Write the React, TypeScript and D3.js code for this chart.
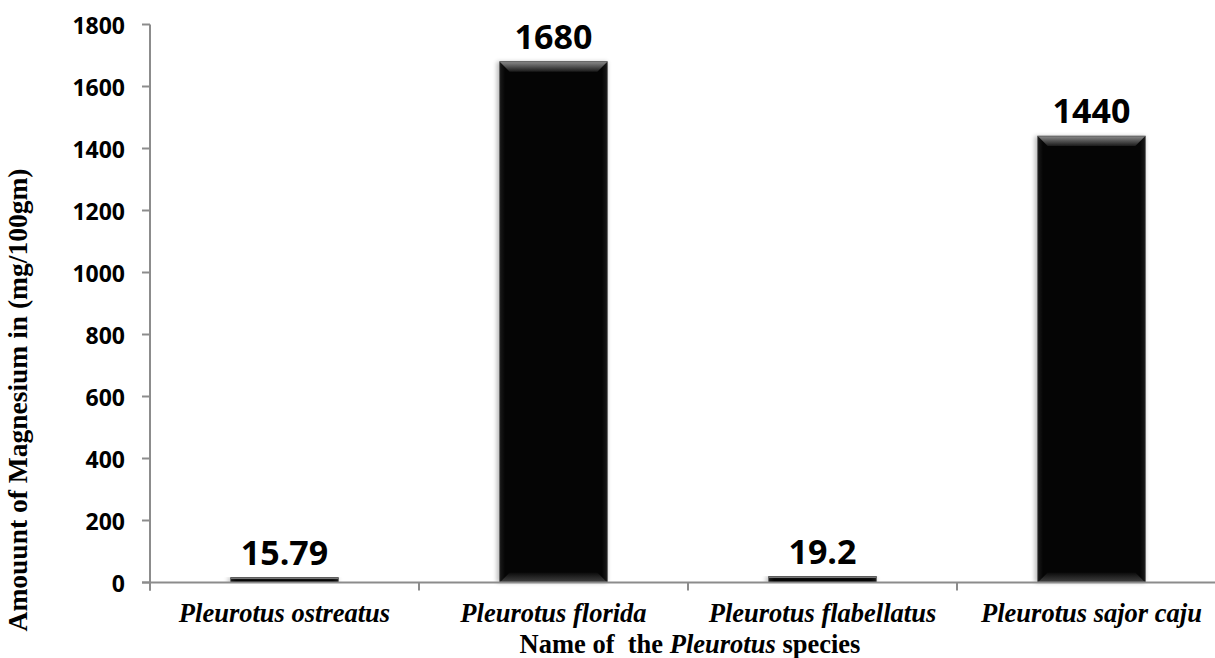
import React from "react";
import * as d3 from "d3";

const categories = ["Pleurotus ostreatus", "Pleurotus florida", "Pleurotus flabellatus", "Pleurotus sajor caju"];
const values = [15.79, 1680, 19.2, 1440];
const valueLabels = ["15.79", "1680", "19.2", "1440"];
const yTicks = [0, 200, 400, 600, 800, 1000, 1200, 1400, 1600, 1800];

const W = 1215;
const H = 658;
const left = 150;
const bandW = 269;
const y0 = 582.5;
const yTop = 24.5;

export default function App() {
  const x = d3.scaleBand<string>().domain(categories).range([left, left + bandW * 4]).paddingInner(0).paddingOuter(0);
  const y = d3.scaleLinear().domain([0, 1800]).range([y0, yTop]);
  const bw = bandW * 0.4;
  const tickFont = "'Open Sans', Lato, sans-serif";
  const serif = "'Liberation Serif', 'Times New Roman', serif";
  return (
    <div style={{ position: "absolute", left: 0, top: 0 }}>
      <svg width={W} height={H} style={{ display: "block", background: "#fff" }}>
        <defs>
          <linearGradient id="barg" x1="0" x2="1" y1="0" y2="0">
            <stop offset="0" stopColor="#1a1a1a" />
            <stop offset="0.05" stopColor="#050505" />
            <stop offset="0.95" stopColor="#050505" />
            <stop offset="1" stopColor="#1a1a1a" />
          </linearGradient>
          <linearGradient id="topg" x1="0" x2="0" y1="0" y2="1">
            <stop offset="0" stopColor="#8a8a8a" />
            <stop offset="1" stopColor="#1a1a1a" />
          </linearGradient>
          <linearGradient id="botg" x1="0" x2="0" y1="0" y2="1">
            <stop offset="0" stopColor="#0a0a0a" />
            <stop offset="1" stopColor="#444" />
          </linearGradient>
          <filter id="sh" x="-20%" y="-5%" width="140%" height="110%">
            <feGaussianBlur stdDeviation="2" />
          </filter>
        </defs>
        {/* y axis */}
        <line x1={left} x2={left} y1={yTop} y2={y0 + 8} stroke="#8c8c8c" strokeWidth={2} />
        {yTicks.map((t) => (
          <g key={t}>
            <line x1={left - 8} x2={left} y1={y(t)} y2={y(t)} stroke="#8c8c8c" strokeWidth={2} />
            <text x={left - 25} y={y(t)} textAnchor="end" dominantBaseline="central" fontFamily={tickFont} fontWeight={700} fontSize={23} fill="#000">
              {t}
            </text>
          </g>
        ))}
        {/* bars */}
        {categories.map((c, i) => {
          const cx = (x(c) as number) + x.bandwidth() / 2;
          const bx = cx - bw / 2;
          const by = y(values[i]);
          const bh = y0 - by;
          const bev = Math.min(10, bh / 2);
          return (
            <g key={c}>
              <rect x={bx - 3} y={by} width={bw + 3} height={bh} fill="#000" opacity={0.25} filter="url(#sh)" />
              <rect x={bx} y={by} width={bw} height={bh} fill="url(#barg)" />
              {bh > 20 && (
                <>
                  <polygon points={`${bx},${by} ${bx + bw},${by} ${bx + bw - bev},${by + bev} ${bx + bev},${by + bev}`} fill="url(#topg)" />
                  <polygon points={`${bx},${y0} ${bx + bw},${y0} ${bx + bw - bev},${y0 - bev} ${bx + bev},${y0 - bev}`} fill="url(#botg)" />
                </>
              )}
              {bh <= 20 && <rect x={bx} y={by} width={bw} height={1.5} fill="#777" />}
              <rect x={bx} y={by} width={bw} height={bh} fill="none" stroke="#555" strokeWidth={0.8} />
              <text x={cx} y={by - 13} textAnchor="middle" fontFamily={tickFont} fontWeight={700} fontSize={34} fill="#000">
                {valueLabels[i]}
              </text>
              <text x={cx} y={622} textAnchor="middle" fontFamily={serif} fontWeight={700} fontStyle="italic" fontSize={26.5} fill="#000">
                {c}
              </text>
            </g>
          );
        })}
        {/* x axis */}
        <line x1={left - 8} x2={left + bandW * 4} y1={y0} y2={y0} stroke="#8c8c8c" strokeWidth={2} />
        {[0, 1, 2, 3, 4].map((k) => (
          <line key={k} x1={left + k * bandW} x2={left + k * bandW} y1={y0} y2={y0 + 8} stroke="#8c8c8c" strokeWidth={2} />
        ))}
        <text x={690} y={653} textAnchor="middle" fontFamily={serif} fontWeight={700} fontSize={26.5} fill="#000" style={{ whiteSpace: "pre" }}>
          <tspan>Name of  the </tspan>
          <tspan fontStyle="italic">Pleurotus</tspan>
          <tspan> species</tspan>
        </text>
        <text transform={`translate(27,400) rotate(-90)`} textAnchor="middle" fontFamily={serif} fontWeight={700} fontSize={27.5} fill="#000">
          Amouunt of Magnesium in (mg/100gm)
        </text>
      </svg>
    </div>
  );
}
